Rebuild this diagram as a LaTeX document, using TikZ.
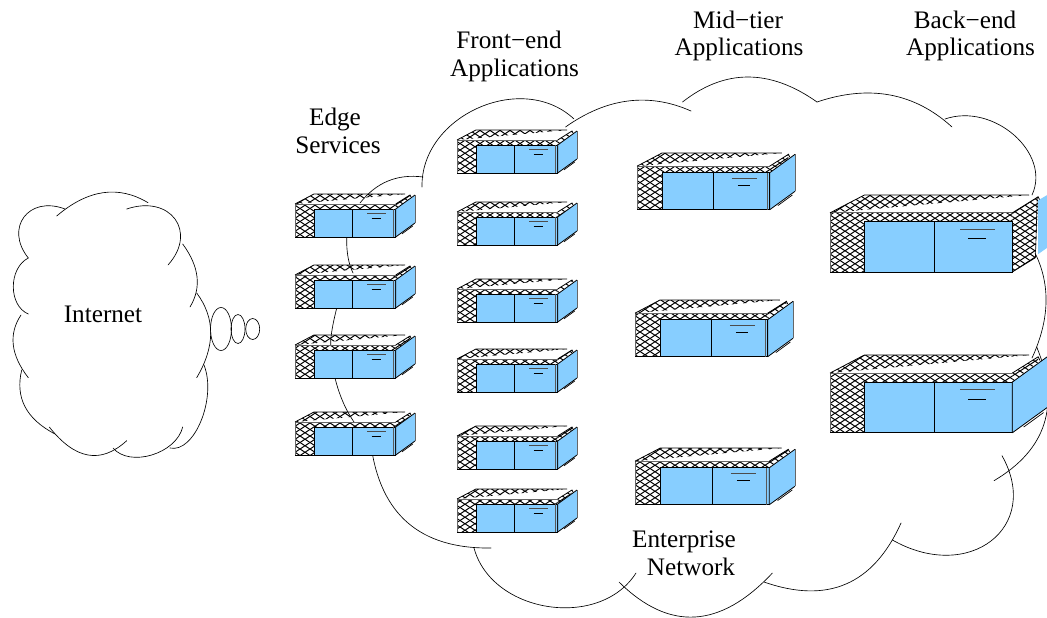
\documentclass[tikz,border=0pt]{standalone}
\usepackage{fontspec}
\setmainfont{Liberation Serif}
\usetikzlibrary{patterns,calc}

\definecolor{serverblue}{HTML}{87CEFF}
\pgfdeclarepatternformonly{servermesh}{\pgfqpoint{-1pt}{-1pt}}{\pgfqpoint{11pt}{7.5pt}}{\pgfqpoint{10pt}{6.5pt}}{
  \pgfsetlinewidth{0.95pt}
  \pgfpathmoveto{\pgfqpoint{0pt}{0pt}}
  \pgfpathlineto{\pgfqpoint{10pt}{6.5pt}}
  \pgfpathmoveto{\pgfqpoint{0pt}{6.5pt}}
  \pgfpathlineto{\pgfqpoint{10pt}{0pt}}
  \pgfusepath{stroke}
}
\newcommand{\cloudarc}[3]{\draw[cloudline] (#1) .. controls ($1.333*(#2)-0.333*(#3)$) and ($1.333*(#2)-0.333*(#1)$) .. (#3);}
\newcommand{\deeparc}[3]{\draw[cloudline] (#1) .. controls ($0.167*(#1)+1.333*(#2)-0.5*(#3)$) and ($-0.5*(#1)+1.333*(#2)+0.167*(#3)$) .. (#3);}
\newcommand{\serverbody}{
  \fill[serverblue] (19,15) rectangle (100.7,43);
  \fill[meshfill] (0,10) -- (19,0) -- (110,0) -- (22,8) -- cycle;
  \fill[meshfill] (0,10) -- (100.7,10) -- (100.7,15) -- (19,15) -- (19,43) -- (0,43) -- cycle;
  \fill[meshfill] (100.7,10) -- (115,1) -- (115,4) -- (100.7,15) -- cycle;
  \draw[line width=0.9pt, black!60] (0,10) -- (0,43);
  \draw[line width=0.9pt, black!60] (0,10) -- (100.7,10);
  \draw[serverline] (0,10) -- (19,0) -- (110,0);
  \draw[serverline] (100.7,10) -- (115,1) -- (116,3);
  \draw[serverline] (0,43) -- (100.7,43) -- (100.7,15) -- (19,15) -- (19,43);
  \draw[serverline] (57.7,15) -- (57.7,43);
  \draw[line width=1pt, black!70] (72,19.3) -- (91,19.3);
  \draw[line width=0.9pt] (76.5,24.3) -- (86,24.3);
}
\newcommand{\serverside}{
  \fill[serverblue] (100.7,15) -- (120,1) -- (120,29) -- (100.7,43) -- cycle;
  \draw[serverline] (100.7,43) -- (100.7,15) -- (120,1);
  \draw[serverline] (100.7,43) -- (120,29);
  \draw[line width=0.4pt, black!60] (120,1) -- (120,29);
  \draw[line width=0.7pt] (107,39.8) -- (118,31.8);
}
\tikzset{
  cloudline/.style={line width=0.65pt, line cap=round},
  serverline/.style={line width=0.8pt, line join=miter},
  meshfill/.style={pattern=servermesh, pattern color=black},
  pics/smallserver/.style={code={
    \serverbody
    \serverside
    \draw[line width=0.7pt, black!65] (98.8,15) -- (98.8,43);
  }},
  pics/bigserver/.style={code={
    \serverbody
    \serverside
  }},
  pics/meshserver/.style={code={
    \serverbody
    \fill[meshfill] (100.7,15) -- (115,4) -- (113.5,35) -- (100.7,43) -- cycle;
    \draw[serverline] (100.7,43) -- (113.5,35);
    \draw[line width=0.6pt] (114.5,1) -- (113.5,35);
    \fill[serverblue] (115,3) -- (120,0) -- (120,29.5) -- (115,33) -- cycle;
  }}
}

\begin{document}
\begin{tikzpicture}[x=1pt, y=-1pt, every node/.style={font=\fontsize{25.2}{27}\selectfont, inner sep=0pt, anchor=center}]
\useasboundingbox (0,0) rectangle (1047,618);

% Internet
\cloudarc{56.7,216}{103,192.7}{148,202.7}
\deeparc{126.7,209}{175,219}{168,265}
\cloudarc{182.7,244}{197,276.7}{190,307}
\cloudarc{196.7,293}{210.7,333}{196.7,377.7}
\deeparc{204,365}{201,421}{170,448}
\deeparc{182.7,427}{151.7,455}{113,448}
\cloudarc{126.7,440.7}{88,455}{49.3,427}
\cloudarc{55,434}{25,406.7}{21.7,370}
\cloudarc{28.3,377.7}{13.3,345}{21,315}
\deeparc{28.3,314}{13.3,286.7}{28.3,258}
\deeparc{28.3,258}{24,217}{65,209}
\draw[cloudline] (221,329) ellipse [x radius=10.5, y radius=21.5];
\draw[cloudline] (238,329) ellipse [x radius=7, y radius=14.5];
\draw[cloudline] (252.7,329) ellipse [x radius=7, y radius=10.5];

% Enterprise
\deeparc{422,187}{478,108}{574,119}
\cloudarc{565.5,127}{628,101}{691,111}
\cloudarc{682.5,102}{748,77}{817,102}
\cloudarc{817,102}{890,95}{952,127}
\deeparc{945,119}{1014,135}{1032,195}
\cloudarc{1035,253}{1046,303}{1032,358}
\cloudarc{1036.7,347}{1044,424}{994,480.7}
\deeparc{1002,455.7}{991,541}{892.4,540}
\cloudarc{901,523}{846,584}{764,582}
\cloudarc{772.4,573}{695,617}{619,582}
\deeparc{636,573}{548,606.5}{474,548}
\cloudarc{491,548}{408,523}{371,445}
\cloudarc{335,378}{343,402}{354,422}
\cloudarc{337,307}{332,330}{330.7,345}
\cloudarc{346.7,237}{348,257}{353,273}
\cloudarc{423,177}{388,181}{360,203}

% Edge servers
\pic (E1) at (295,194) {smallserver};
\pic (E2) at (295,265) {smallserver};
\pic (E3) at (295,335) {smallserver};
\pic (E4) at (295,412) {smallserver};

% Front-end servers
\pic (F1) at (457,130) {smallserver};
\pic (F2) at (457,202) {smallserver};
\pic (F3) at (457,279) {smallserver};
\pic (F4) at (457,349) {smallserver};
\pic (F5) at (457,426) {smallserver};
\pic (F6) at (457,489) {smallserver};

% Mid-tier servers
\pic[xscale=1.317, yscale=1.32] (M1) at (637,153) {smallserver};
\pic[xscale=1.317, yscale=1.32] (M2) at (635,300) {smallserver};
\pic[xscale=1.333, yscale=1.32] (M3) at (635,448) {smallserver};

% Back-end servers
\pic[xscale=1.81, yscale=1.79] (B1) at (830,195) {meshserver};
\pic[xscale=1.81, yscale=1.81] (B2) at (830,355) {bigserver};

\node (internet) at (103,314) {Internet};
\node (edge) at (335,119) {Edge};
\node (services) at (338,145) {Services};
\node (frontend) at (509,40) {Front−end};
\node (frontapps) at (514.5,70) {Applications};
\node (midtier) at (738,20) {Mid−tier};
\node (midapps) at (739,49) {Applications};
\node (backend) at (965,20) {Back−end};
\node (backapps) at (970.5,49) {Applications};
\node (enterprise) at (684,541.5) {Enterprise};
\node (network) at (691,567) {Network};
\end{tikzpicture}
\end{document}
